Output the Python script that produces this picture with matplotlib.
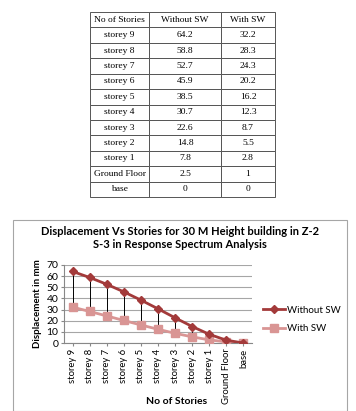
import numpy as np
import matplotlib.pyplot as plt
from matplotlib.patches import Rectangle

# data
stories = ['storey 9', 'storey 8', 'storey 7', 'storey 6', 'storey 5', 'storey 4',
           'storey 3', 'storey 2', 'storey 1', 'Ground Floor', 'base']
without_sw = [64.2, 58.8, 52.7, 45.9, 38.5, 30.7, 22.6, 14.8, 7.8, 2.5, 0]
with_sw = [32.2, 28.3, 24.3, 20.2, 16.2, 12.3, 8.7, 5.5, 2.8, 1, 0]
col_labels = ['No of Stories', 'Without SW', 'With SW']

W, H = 356, 411
fig = plt.figure(figsize=(W / 100, H / 100), dpi=100)

# table
tax = fig.add_axes([90 / W, 1 - 197 / H, 185 / W, 185 / H])
tax.axis('off')
cells = [[s, f'{a:g}', f'{b:g}'] for s, a, b in zip(stories, without_sw, with_sw)]
tbl = tax.table(cellText=cells, colLabels=col_labels, loc='center',
                cellLoc='center', bbox=[0, 0, 1, 1],
                colWidths=[59 / 185, 72 / 185, 54 / 185])
tbl.auto_set_font_size(False)
for (r, c), cell in tbl.get_celld().items():
    cell.set_edgecolor('#555555')
    cell.set_linewidth(0.7)
    cell.get_text().set_fontsize(6.8)
    cell.get_text().set_fontfamily('Liberation Serif')

# chart frame
fig.patches.append(Rectangle((13 / W, 0), (347 - 13) / W, 1 - 220 / H,
                             transform=fig.transFigure, fill=False,
                             edgecolor='#a6a6a6', linewidth=0.8))

font = 'Lato'
ax = fig.add_axes([64 / W, 1 - 343 / H, 188 / W, 78 / H])
x = np.arange(len(stories))
ax.vlines(x, with_sw, without_sw, color='black', linewidth=0.7, zorder=2)
ax.plot(x, without_sw, color='#a33a3a', linewidth=2, marker='D', markersize=4,
        label='Without SW', zorder=4)
ax.plot(x, with_sw, color='#d99594', linewidth=2, marker='s', markersize=5.5,
        label='With SW', zorder=3)
ax.set_xlim(-0.5, len(stories) - 0.5)
ax.set_ylim(0, 70)
ax.set_yticks(range(0, 71, 10))
ax.yaxis.grid(True, color='#a6a6a6', linewidth=0.8)
ax.set_axisbelow(True)
ax.set_xticks(x)
ax.set_xticklabels(stories, rotation=90, fontsize=6.8, fontfamily=font)
for lab in ax.get_yticklabels():
    lab.set_fontsize(7.5)
    lab.set_fontfamily(font)
for s in ['top', 'right']:
    ax.spines[s].set_visible(False)
ax.spines['left'].set_color('#888888')
ax.spines['bottom'].set_color('#888888')
ax.tick_params(axis='both', length=2, color='#888888', pad=2)
ax.set_ylabel('Displacement in mm', fontsize=7, fontweight='bold',
              fontfamily=font, labelpad=3)
ax.set_xlabel('No of Stories', fontsize=7.5, fontweight='bold', fontfamily=font)
ax.xaxis.set_label_coords((177 - 64) / 188, (343 - 401) / 78)
ax.xaxis.label.set_va('center')
ax.set_title('Displacement Vs Stories for 30 M Height building in Z-2\n'
             'S-3 in Response Spectrum Analysis', fontsize=8, fontweight='bold',
             fontfamily=font, x=(180 - 64) / 188, pad=12, linespacing=1.3)
ax.legend(loc='center left', bbox_to_anchor=(1.04, 0.3), frameon=False,
          prop={'family': font, 'size': 7}, handlelength=2.2,
          labelspacing=1.0, borderaxespad=0, handletextpad=0.2)

fig.savefig('out.png', dpi=100)
